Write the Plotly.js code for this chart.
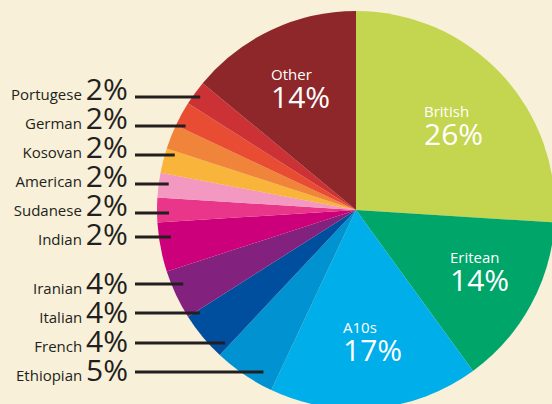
<!DOCTYPE html>
<html>
<head>
<meta charset="utf-8">
<script src="https://cdn.plot.ly/plotly-3.0.1.min.js"></script>
<style>
html,body{margin:0;padding:0;overflow:hidden;background:#f8f0d8;width:552px;height:404px;}
#chart{width:560px;height:412px;}
</style>
</head>
<body>
<div id="chart"></div>
<script>
// Data
const labels = ['British','Eritean','A10s','Ethiopian','French','Italian','Iranian','Indian','Sudanese','American','Kosovan','German','Portugese','Other'];
const values = [26,14,17,5,4,4,4,2,2,2,2,2,2,14];
const colors = ['#c4d54f','#00a56a','#00aee9','#0092d1','#004f9f','#83217f','#cc007a','#e9358a','#f398c0','#f9b43b','#ef843a','#e84c33','#cc3235','#8e2729'];

// Side-label groups (names taken from labels above)
const sideTop = ['Portugese','German','Kosovan','American','Sudanese','Indian'];
const sideBottom = ['Iranian','Italian','French','Ethiopian'];
const insideNames = ['Other','British','Eritean','A10s'];

// Layout geometry (pixels on a 560x412 paper)
const W = 560, H = 412;
const cx = 356, cy = 210, R = 199;
const px = x => x / W;
const py = y => (H - y) / H;

const leaderY = {Portugese:97, German:126, Kosovan:155, American:184, Sudanese:213, Indian:237, Iranian:284, Italian:313, French:343, Ethiopian:372};
const leaderInset = {Portugese:8, German:10, Kosovan:10, American:10, Sudanese:12, Indian:12, Iranian:12, Italian:14, French:17, Ethiopian:23};
const insidePos = {
  Other:   {x:269, y:90},
  British: {x:422, y:128},
  Eritean: {x:448, y:273},
  A10s:    {x:341, y:343}
};

const valOf = name => values[labels.indexOf(name)];

const annotations = [];
const shapes = [];
const font = "'Open Sans', sans-serif";
const rowText = name => '<span style="font-size:15px">' + name + ' </span><span style="font-size:30px">' + valOf(name) + '%</span>';

[[sideTop, 161], [sideBottom, 326]].forEach(([names, midY]) => {
  annotations.push({
    xref:'paper', yref:'paper', x:px(130), y:py(midY),
    xanchor:'right', yanchor:'middle', align:'right', showarrow:false,
    text: names.map(rowText).join('<br>'),
    font:{family:font, size:22.3, color:'#231f20'}
  });
  names.forEach(name => {
    const y = leaderY[name];
    const dy = y - cy;
    const edgeX = cx - Math.sqrt(R*R - dy*dy);
    shapes.push({
      type:'line', xref:'paper', yref:'paper',
      x0:px(135), x1:px(edgeX + leaderInset[name]), y0:py(y), y1:py(y),
      line:{color:'#231f20', width:3}
    });
  });
});

insideNames.forEach(name => {
  const p = insidePos[name];
  annotations.push({
    xref:'paper', yref:'paper', x:px(p.x), y:py(p.y),
    xanchor:'left', yanchor:'middle', align:'left', showarrow:false,
    text:'<span style="font-size:15px">' + name + '</span><br><span style="font-size:30px">' + valOf(name) + '%</span>',
    font:{family:font, size:21.5, color:'#ffffff'}
  });
});

const trace = {
  type:'pie',
  labels: labels,
  values: values,
  sort:false,
  direction:'clockwise',
  rotation:0,
  textinfo:'none',
  hoverinfo:'label+percent',
  marker:{colors: colors, line:{width:0}},
  domain:{x:[px(cx - R), px(cx + R)], y:[py(cy + R), py(cy - R)]},
  showlegend:false
};

Plotly.newPlot('chart', [trace], {
  width:W, height:H,
  margin:{l:0,r:0,t:0,b:0},
  paper_bgcolor:'#f8f0d8',
  plot_bgcolor:'#f8f0d8',
  showlegend:false,
  annotations: annotations,
  shapes: shapes
}, {displayModeBar:false, staticPlot:true});
</script>
</body>
</html>
